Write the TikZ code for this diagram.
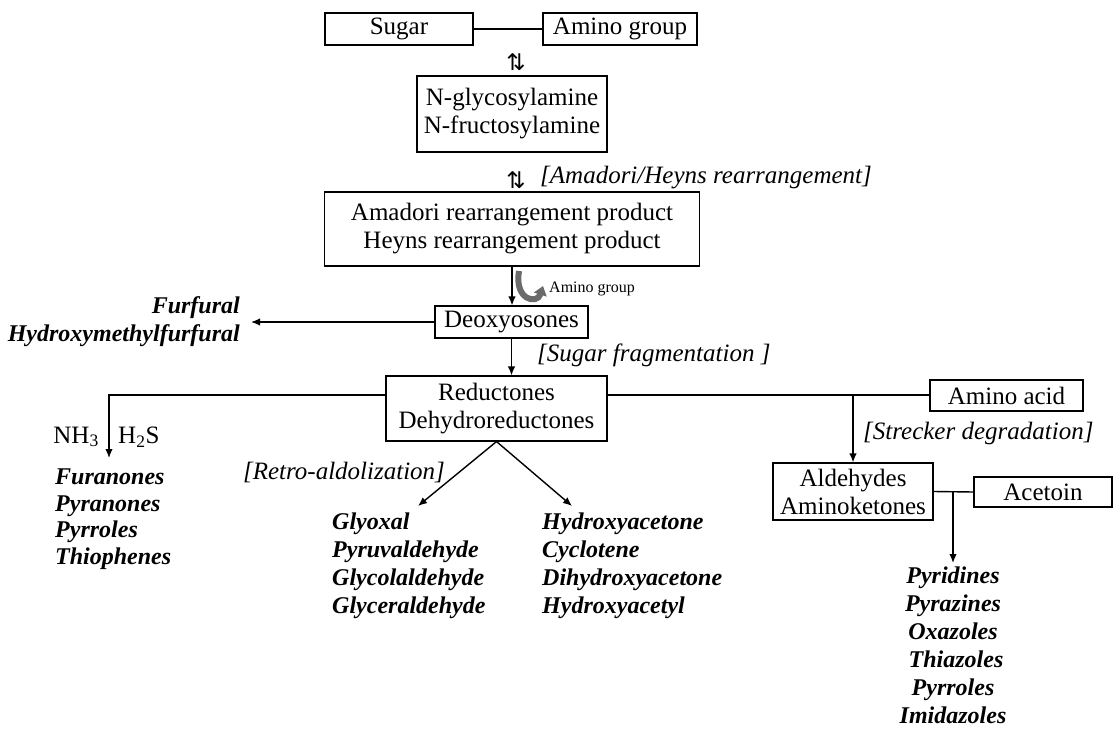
\documentclass[tikz,border=0pt]{standalone}
\usepackage{fontspec}
\setmainfont{Liberation Serif}
\newfontfamily\symfont{DejaVu Sans}
\usetikzlibrary{arrows.meta,calc}
\begin{document}
\begin{tikzpicture}[x=1pt,y=-1pt,
  box/.style={draw, line width=1.1pt, inner sep=0pt, align=center, font=\fontsize{25}{28}\selectfont},
  conn/.style={line width=1.4pt},
  arr/.style={line width=1.4pt, -{Latex[length=9pt,width=7.5pt]}},
  lbl/.style={inner sep=0pt, font=\fontsize{25}{28}\selectfont\itshape},
  txt/.style={inner sep=0pt, font=\fontsize{25}{28}\selectfont},
  small/.style={inner sep=0pt, font=\fontsize{16}{18}\selectfont},
  sym/.style={inner sep=0pt, font=\fontsize{23}{24}\selectfont\symfont},
  prod/.style={inner sep=0pt, align=left, font=\fontsize{24}{28}\selectfont\bfseries\itshape},
  grayarr/.style={line width=6pt, draw={rgb,1:red,0.42;green,0.42;blue,0.42}, -{Triangle[length=9pt,width=13pt]}}]
\useasboundingbox (0,0) rectangle (1118,733);

% boxes
\node[box, minimum width=148pt, minimum height=32pt] (sugar) at (399,29) {Sugar};
\node[box, minimum width=154pt, minimum height=32pt] (amino) at (620,29) {Amino group};
\node[sym] (eq1) at (516,62) {⇅};
\node[box, minimum width=190pt, minimum height=76pt] (nglyco) at (512,114) {N-glycosylamine\\N-fructosylamine};
\node[sym] (eq2) at (516,180) {⇅};
\node[lbl, anchor=west] (amadlbl) at (540,178) {[Amadori/Heyns rearrangement]};
\node[box, minimum width=375pt, minimum height=74pt] (amad) at (512,229) {Amadori rearrangement product\\Heyns rearrangement product};
\node[box, minimum width=153pt, minimum height=32pt] (deoxy) at (511.5,322) {Deoxyosones};
\node[box, minimum width=221pt, minimum height=65pt] (reduct) at (496.5,408.5) {Reductones\\Dehydroreductones};
\node[box, minimum width=153pt, minimum height=31pt] (aa) at (1006.5,395.5) {Amino acid};
\node[box, minimum width=160pt, minimum height=57pt] (ald) at (853,491.5) {Aldehydes\\Aminoketones};
\node[box, minimum width=138pt, minimum height=30pt] (acet) at (1043,492) {Acetoin};

% labels
\node[small, anchor=west] (amlbl) at (549,289) {Amino group};
\node[lbl, anchor=west] (sflbl) at (537,355) {[Sugar fragmentation ]};
\node[lbl] (ralbl) at (344,472) {[Retro-aldolization]};
\node[lbl, anchor=west] (stlbl) at (863,433) {[Strecker degradation]};
\node[txt, anchor=east] (nh3) at (99,437) {NH\textsubscript{3}};
\node[txt, anchor=west] (h2s) at (118,437) {H\textsubscript{2}S};

% products
\node[prod, align=right, anchor=east, inner xsep=11pt] (furf) at (251,322) {Furfural\\Hydroxymethylfurfural};
\node[prod, anchor=west, font=\fontsize{24}{26.5}\selectfont\bfseries\itshape] (lefts) at (55,519) {Furanones\\Pyranones\\Pyrroles\\Thiophenes};
\node[prod, anchor=west] (gly) at (332,566) {Glyoxal\\Pyruvaldehyde\\Glycolaldehyde\\Glyceraldehyde};
\node[prod, anchor=west] (hyd) at (542,566) {Hydroxyacetone\\Cyclotene\\Dihydroxyacetone\\Hydroxyacetyl};
\node[prod, align=center, font=\fontsize{24}{28}\selectfont\bfseries\itshape] (pyr) at (953,645) {Pyridines\\Pyrazines\\Oxazoles\\\ Thiazoles\\Pyrroles\\Imidazoles};

% coordinates
\coordinate (lc) at (109,395);
\coordinate (ltip) at (109,458);
\coordinate (rc) at (853,395);
\coordinate (rt1) at (418,506);
\coordinate (rt2) at (572,506);
\coordinate (pc) at (953,492);
\coordinate (ptip) at (953,563);

% connectors
\draw[conn] (sugar) -- (amino);
\draw[arr] (amad.south) -- (amad.south |- deoxy.north);
\draw[arr] (deoxy.west) -- (deoxy.west -| furf.east);
\draw[arr] (deoxy.south) -- (deoxy.south |- reduct.north);
\draw[arr] (reduct.west |- lc) -- (lc) -- (ltip);
\draw[conn] (reduct.east |- rc) -- (aa.west |- rc);
\draw[arr] (rc) -- (ald.north);
\draw[arr] (reduct.south) -- (rt1);
\draw[arr] (reduct.south) -- (rt2);
\draw[conn] (ald.east) -- (acet.west);
\draw[arr] (pc) -- (ptip);

% curved gray arrow
\draw[grayarr] (519,271) .. controls (514,300) and (537,305) .. (543,286);
\end{tikzpicture}
\end{document}
